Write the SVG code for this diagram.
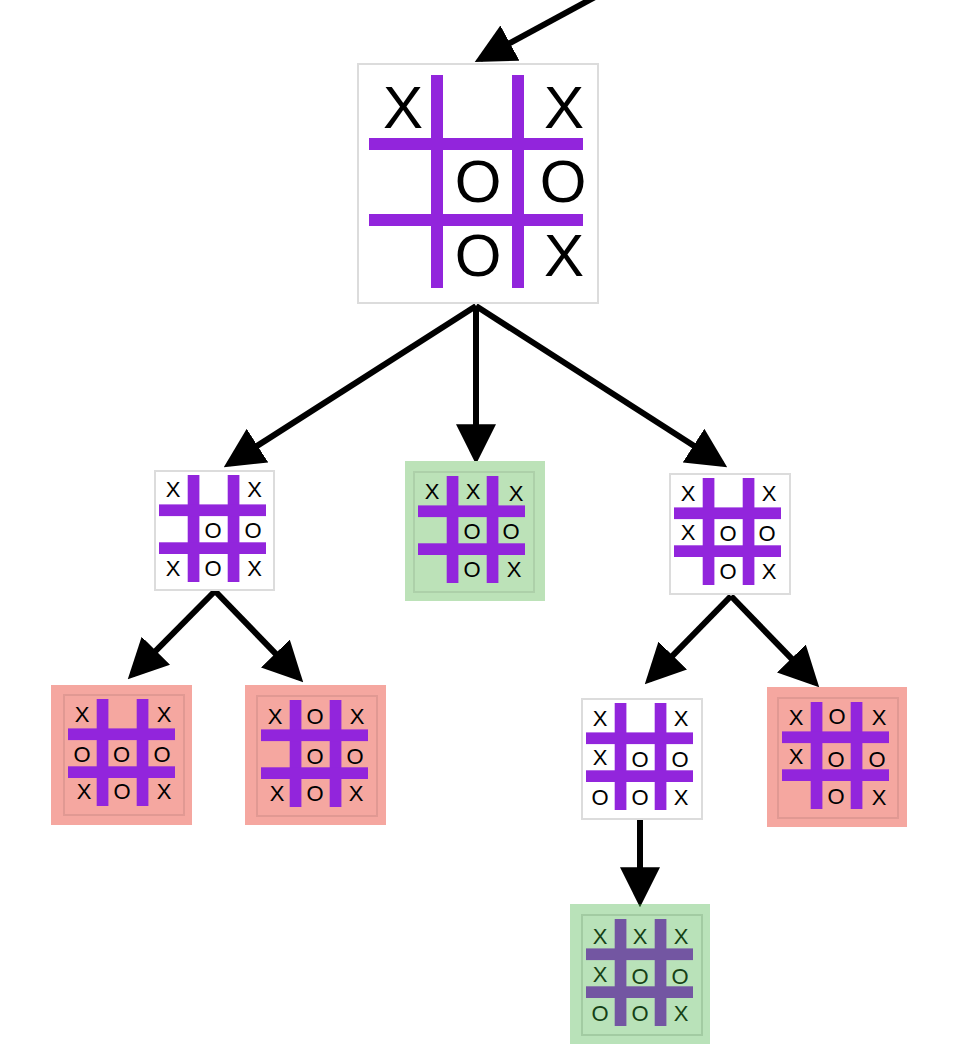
<svg xmlns="http://www.w3.org/2000/svg" xmlns:xlink="http://www.w3.org/1999/xlink" width="954" height="1059" viewBox="0 0 954 1059">
<style>
.bg{fill:#fff}
.frame{fill:#fff;stroke:#dcdcdc;stroke-width:2}
.frame-t{fill:none;stroke:#000;stroke-opacity:0.08;stroke-width:2}
.gl{fill:#9225dc}
.t{font-family:"Liberation Sans",Arial,sans-serif;font-size:22px;text-anchor:middle;fill:#000}
.big{font-size:60px}
.edge{stroke:#000;stroke-width:6;fill:none;marker-end:url(#ah)}
.win{fill:#bce2b8}
.lose{fill:#f5a7a0}
.ov{fill:#3caf3c;fill-opacity:0.36}
</style>
<defs>
<marker id="ah" markerUnits="userSpaceOnUse" markerWidth="40" markerHeight="40" viewBox="0 0 38 38" refX="32" refY="19" orient="auto">
<path d="M0,0 L38,19 L0,38 Z" fill="#000"/>
</marker>
<g id="grid">
<rect class="gl" x="32.7" y="4" width="11.7" height="107"/>
<rect class="gl" x="72.7" y="4" width="11.7" height="107"/>
<rect class="gl" x="4" y="33.4" width="107" height="11.7"/>
<rect class="gl" x="4" y="71.3" width="107" height="11.7"/>
</g>
</defs>
<rect class="bg" x="0" y="0" width="954" height="1059"/>

<g id="connectors">
<line class="edge" x1="595" y1="-3" x2="480.3" y2="59.1"/>
<line class="edge" x1="476" y1="306" x2="229.1" y2="463.8"/>
<line class="edge" x1="476" y1="306" x2="476" y2="458"/>
<line class="edge" x1="476" y1="306" x2="721.9" y2="463.8"/>
<line class="edge" x1="215" y1="591" x2="132.2" y2="674.7"/>
<line class="edge" x1="215" y1="591" x2="298.8" y2="677.7"/>
<line class="edge" x1="731" y1="596" x2="649.2" y2="679.7"/>
<line class="edge" x1="731" y1="596" x2="814.8" y2="682.7"/>
<line class="edge" x1="640" y1="820" x2="640" y2="901"/>
</g>

<g id="root">
<rect class="frame" x="358" y="64" width="240" height="239"/>
<rect class="gl" x="431" y="75" width="12" height="213"/>
<rect class="gl" x="512" y="75" width="12" height="213"/>
<rect class="gl" x="369" y="138" width="214" height="12"/>
<rect class="gl" x="369" y="214" width="214" height="12"/>
<text class="t big" x="403" y="127.5">X</text>
<text class="t big" x="564" y="127.5">X</text>
<text class="t big" x="478" y="201.5">O</text>
<text class="t big" x="563" y="201.5">O</text>
<text class="t big" x="478" y="275.5">O</text>
<text class="t big" x="564" y="275.5">X</text>
</g>

<g id="b1" transform="translate(155,471)">
<rect class="frame" x="0" y="0" width="119" height="119"/>
<use xlink:href="#grid" href="#grid"/>
<text class="t" x="18" y="26">X</text>
<text class="t" x="99.5" y="26">X</text>
<text class="t" x="58" y="67">O</text>
<text class="t" x="98" y="67">O</text>
<text class="t" x="18" y="105">X</text>
<text class="t" x="58" y="105">O</text>
<text class="t" x="99.5" y="105">X</text>
</g>

<g id="g1">
<rect class="win" x="405" y="461" width="140" height="140"/>
<g transform="translate(414,472)">
<rect class="frame-t" x="0" y="0" width="120" height="120"/>
<use xlink:href="#grid" href="#grid"/>
<text class="t" x="18" y="27">X</text>
<text class="t" x="59" y="27">X</text>
<text class="t" x="102" y="29">X</text>
<text class="t" x="58" y="67">O</text>
<text class="t" x="97" y="67">O</text>
<text class="t" x="58" y="105">O</text>
<text class="t" x="100" y="105">X</text>
</g>
</g>

<g id="b3" transform="translate(670,474)">
<rect class="frame" x="0" y="0" width="120" height="120"/>
<use xlink:href="#grid" href="#grid"/>
<text class="t" x="18" y="27">X</text>
<text class="t" x="99" y="27">X</text>
<text class="t" x="18" y="66">X</text>
<text class="t" x="58" y="67">O</text>
<text class="t" x="97" y="67">O</text>
<text class="t" x="58" y="105">O</text>
<text class="t" x="99" y="105">X</text>
</g>

<g id="r1">
<rect class="lose" x="51" y="685" width="141" height="140"/>
<g transform="translate(64,695)">
<rect class="frame-t" x="0" y="0" width="120" height="120"/>
<use xlink:href="#grid" href="#grid"/>
<text class="t" x="18" y="26.5">X</text>
<text class="t" x="100" y="26.5">X</text>
<text class="t" x="18" y="66.5">O</text>
<text class="t" x="57.5" y="66.5">O</text>
<text class="t" x="98" y="66.5">O</text>
<text class="t" x="20" y="104">X</text>
<text class="t" x="58" y="104">O</text>
<text class="t" x="100" y="104">X</text>
</g>
</g>

<g id="r2">
<rect class="lose" x="245" y="685" width="141" height="140"/>
<g transform="translate(257,696)">
<rect class="frame-t" x="0" y="0" width="120" height="120"/>
<use xlink:href="#grid" href="#grid"/>
<text class="t" x="18" y="28">X</text>
<text class="t" x="58" y="28">O</text>
<text class="t" x="100" y="28">X</text>
<text class="t" x="58" y="68">O</text>
<text class="t" x="98" y="68">O</text>
<text class="t" x="20" y="105">X</text>
<text class="t" x="58" y="105">O</text>
<text class="t" x="99" y="105">X</text>
</g>
</g>

<g id="b4" transform="translate(582,699)">
<rect class="frame" x="0" y="0" width="120" height="120"/>
<use xlink:href="#grid" href="#grid"/>
<text class="t" x="18" y="27">X</text>
<text class="t" x="99" y="27">X</text>
<text class="t" x="18" y="66">X</text>
<text class="t" x="58" y="68">O</text>
<text class="t" x="98" y="68">O</text>
<text class="t" x="18" y="106">O</text>
<text class="t" x="58" y="106">O</text>
<text class="t" x="99" y="106">X</text>
</g>

<g id="r3">
<rect class="lose" x="767" y="687" width="140" height="140"/>
<g transform="translate(778,698)">
<rect class="frame-t" x="0" y="0" width="120" height="120"/>
<use xlink:href="#grid" href="#grid"/>
<text class="t" x="18" y="27">X</text>
<text class="t" x="59" y="26">O</text>
<text class="t" x="101" y="27">X</text>
<text class="t" x="18" y="66">X</text>
<text class="t" x="58" y="69">O</text>
<text class="t" x="99" y="69">O</text>
<text class="t" x="58" y="106">O</text>
<text class="t" x="101" y="107">X</text>
</g>
</g>

<g id="g2">
<g transform="translate(582,915)">
<rect class="frame" x="0" y="0" width="120" height="120"/>
<use xlink:href="#grid" href="#grid"/>
<text class="t" x="18" y="29">X</text>
<text class="t" x="58" y="29">X</text>
<text class="t" x="99" y="29">X</text>
<text class="t" x="18" y="67">X</text>
<text class="t" x="58" y="69">O</text>
<text class="t" x="98" y="69">O</text>
<text class="t" x="18" y="106">O</text>
<text class="t" x="58" y="106">O</text>
<text class="t" x="99" y="106">X</text>
</g>
<rect class="ov" x="570" y="904" width="140" height="140"/>
</g>
</svg>
